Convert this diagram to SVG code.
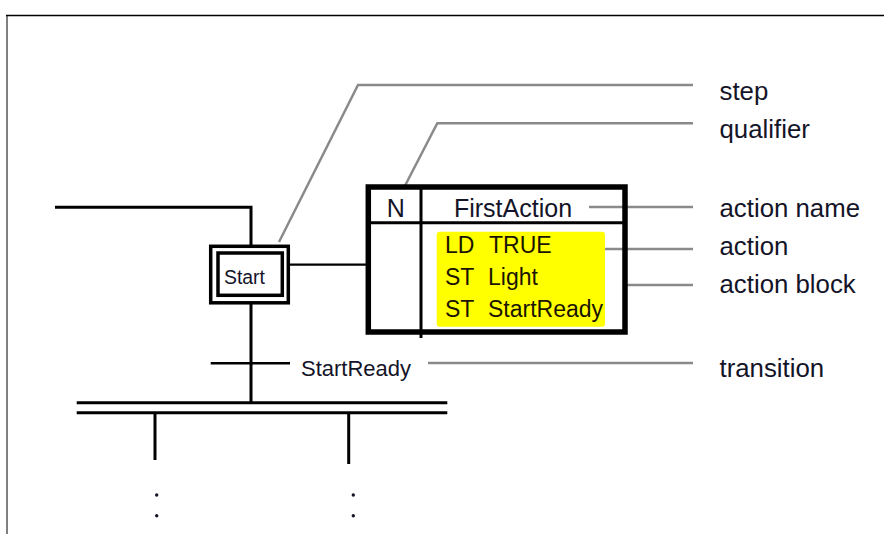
<svg xmlns="http://www.w3.org/2000/svg" width="884" height="534" viewBox="0 0 884 534">
<style>
.blk{stroke:#000;fill:none}
.ld{stroke:#8a8a8a;stroke-width:2.5;fill:none}
.t{font-family:"Liberation Sans",Arial,sans-serif;fill:#141428}
.lbl{font-size:25.8px}
.act{font-size:23px;fill:#1a1400}
.dot{fill:#141428}
</style>
<rect width="884" height="534" fill="#fff"/>
<g id="frame">
<line x1="6" y1="15.5" x2="884" y2="15.5" stroke="#000" stroke-width="1.5"/>
<line x1="7" y1="15" x2="7" y2="534" stroke="#000" stroke-width="1"/>
</g>
<g id="connectors">
<polyline class="blk" stroke-width="3" points="55,207.3 251,207.3 251,246"/>
<line class="blk" stroke-width="3" x1="251" y1="303" x2="251" y2="402.7"/>
<line class="blk" stroke-width="2.2" x1="290" y1="264.7" x2="366" y2="264.7"/>
<line class="blk" stroke-width="2.5" x1="210.7" y1="363.3" x2="290" y2="363.3"/>
<line class="blk" stroke-width="3" x1="76.7" y1="402.7" x2="447.3" y2="402.7"/>
<line class="blk" stroke-width="3" x1="76.7" y1="412.7" x2="447.3" y2="412.7"/>
<line class="blk" stroke-width="3" x1="155" y1="412.7" x2="155" y2="460"/>
<line class="blk" stroke-width="3" x1="348.7" y1="412.7" x2="348.7" y2="464"/>
</g>
<g id="leaders">
<polyline class="ld" points="279,242 358,85 693,85"/>
<polyline class="ld" points="403.3,189 437.3,123.3 693,123.3"/>
<line class="ld" x1="589" y1="207" x2="693" y2="207"/>
<line class="ld" x1="577" y1="249" x2="693" y2="249"/>
<line class="ld" x1="627" y1="285" x2="693" y2="285"/>
<line class="ld" x1="428" y1="363" x2="693" y2="363"/>
</g>
<g id="step-start">
<rect class="blk" stroke-width="3.5" x="210.7" y="246.3" width="77.6" height="56.5"/>
<rect class="blk" stroke-width="3.5" x="218" y="253" width="64.3" height="42.3"/>
<text class="t" x="224" y="284" font-size="19.4">Start</text>
</g>
<g id="action-block">
<rect x="436.7" y="231.7" width="168.3" height="95" rx="3" fill="#ffff00"/>
<rect class="blk" stroke-width="5.5" x="368.3" y="187" width="256.7" height="145"/>
<line class="blk" stroke-width="3" x1="368" y1="222.7" x2="625" y2="222.7"/>
<line class="blk" stroke-width="3" x1="421" y1="187" x2="421" y2="338"/>
<text class="t" x="395.8" y="216.7" font-size="25" text-anchor="middle">N</text>
<text class="t" x="513" y="216.5" font-size="25" text-anchor="middle">FirstAction</text>
<text class="t act" x="445" y="253">LD</text>
<text class="t act" x="489" y="253">TRUE</text>
<text class="t act" x="445" y="285">ST</text>
<text class="t act" x="488" y="285">Light</text>
<text class="t act" x="445" y="316.7">ST</text>
<text class="t act" x="488" y="316.7">StartReady</text>
</g>
<g id="transition">
<text class="t" x="301" y="376" font-size="22">StartReady</text>
</g>
<g id="labels">
<text class="t lbl" x="719.5" y="100">step</text>
<text class="t lbl" x="719.5" y="138">qualifier</text>
<text class="t lbl" x="719.5" y="216.5">action name</text>
<text class="t lbl" x="719.5" y="254.5">action</text>
<text class="t lbl" x="719.5" y="293">action block</text>
<text class="t lbl" x="719.5" y="377">transition</text>
</g>
<g id="continuation">
<circle class="dot" cx="156.7" cy="495" r="1.7"/>
<circle class="dot" cx="156.7" cy="515.7" r="1.7"/>
<circle class="dot" cx="353.3" cy="495" r="1.7"/>
<circle class="dot" cx="353.3" cy="515.7" r="1.7"/>
</g>
</svg>
